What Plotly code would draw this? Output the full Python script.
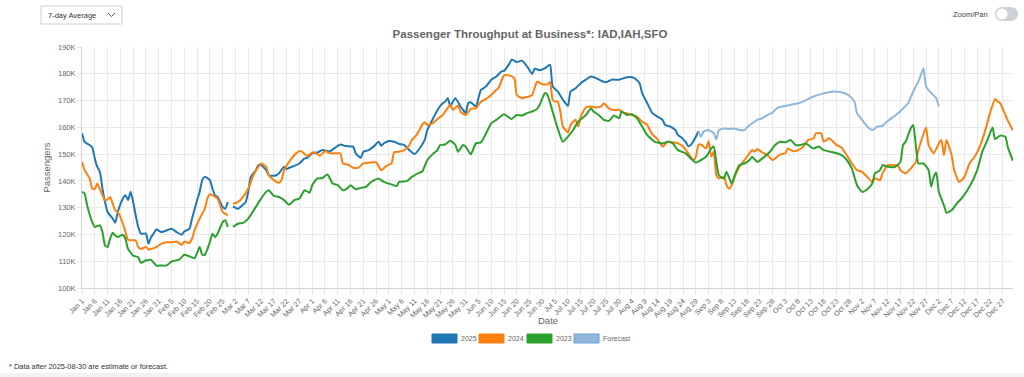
import plotly.graph_objects as go
import pandas as pd

# ---- data: (day-of-year index from Jan 1, passengers in thousands) ----
obs_2025 = [(0,157.8),(1,154.6),(3,153.4),(4,152.5),(5,148.4),(6,145.2),(7,143.4),(8,137.1),(9,132.1),(10,128.4),
            (12,125.9),(13,124.4),(14,128.4),(16,133.4),(17,134.6),(18,132.8),(19,135.9),(20,132.1),(21,127.1),(22,122.8),
            (23,120.3),(25,120.3),(26,116.5),(27,119.0),(28,120.3),(29,121.9),(31,120.9),(32,121.1),(35,122.1),(37,120.9),
            (39,119.9),(40,121.1),(42,122.1),(43,125.9),(45,132.8),(46,135.9),(47,140.3),(48,141.5),(50,140.3),(51,137.1),
            (52,134.6),(53,134.0),(55,130.3),(56,129.6),(57,132.1),(58,None),(59,130.5),(61,129.6),(62,130.3),(64,132.1),
            (65,135.9),(66,141.5),(68,144.0),(69,145.9),(70,145.9),(72,144.0),(73,142.1),(74,141.9),(76,142.1),(77,142.8),
            (79,145.3),(80,144.4),(81,144.9),(83,145.6),(85,146.5),(87,148.4),(88,148.6),(90,150.3),(92,150.6),(94,151.5),
            (97,151.1),(99,152.4),(101,153.6),(103,153.0),(106,152.8),(107,150.3),(109,148.6),(110,150.9),(112,151.5),(114,152.8),
            (116,154.6),(117,153.1),(118,154.0),(120,154.9),(122,154.6),(124,153.8),(126,153.4),(128,151.5),(130,150.0),(132,152.1),
            (134,155.3),(135,159.0),(137,162.8),(139,166.5),(141,169.0),(142,169.6),(143,170.9),(144,167.8),(145,169.6),(146,170.9),
            (148,167.8),(149,166.5),(150,165.3),(151,169.0),(152,169.4),(154,167.8),(155,170.9),(156,174.0),(158,175.3),(160,177.8),
            (162,179.0),(164,180.9),(165,181.1),(167,183.6),(168,185.3),(170,184.4),(172,184.9),(174,182.8),(176,179.9),(177,181.9),
            (179,181.3),(181,182.1),(183,183.4),(184,175.3),(186,173.4),(188,170.3),(190,168.0),(191,173.4),(193,174.6),(195,176.5),
            (197,177.8),(199,179.0),(201,178.4),(203,177.4),(205,176.8),(207,177.8),(210,177.8),(212,178.4),(214,178.8),(216,178.4),
            (218,176.5),(219,172.8),(221,169.0),(223,165.3),(225,164.0),(227,162.8),(228,160.9),(230,160.3),(232,159.0),(233,157.1),
            (234,156.5),(236,154.6),(237,153.0),(238,153.4),(240,156.5),(241,158.6)]

obs_forecast = [(241,158.6),(242,156.5),(243,158.4),(245,159.0),(247,157.8),(248,155.5),(249,159.0),(251,159.6),(253,159.4),
                (255,159.6),(257,159.0),(259,159.0),(260,159.9),(262,161.5),(264,162.8),(266,163.4),(268,164.6),(270,165.5),
                (272,167.4),(275,168.0),(277,168.4),(280,169.0),(282,169.6),(284,170.6),(286,171.5),(289,172.4),(292,173.1),
                (294,173.4),(297,173.1),(300,171.8),(302,169.6),(303,165.3),(305,162.8),(307,160.3),(309,159.0),(311,160.3),
                (313,160.6),(315,162.4),(318,164.4),(320,166.1),(323,169.0),(325,173.4),(327,177.1),(328,179.6),(329,182.1),
                (330,175.3),(332,172.8),(334,170.9),(335,167.8)]

obs_2024 = [(0,147.1),(1,144.0),(3,140.9),(4,137.1),(5,136.9),(6,139.0),(7,136.9),(9,132.8),(10,133.1),(11,134.0),
            (12,131.5),(13,129.0),(14,128.4),(16,124.0),(17,120.9),(18,118.0),(20,117.8),(21,117.8),(22,115.3),(23,114.6),
            (25,115.3),(26,114.4),(27,114.6),(29,115.3),(31,116.5),(33,117.1),(35,117.1),(37,117.4),(39,116.1),(40,117.4),
            (42,116.8),(43,118.4),(44,121.5),(46,125.9),(48,129.6),(49,133.4),(50,135.0),(51,134.6),(53,133.4),(54,130.9),
            (55,128.4),(57,127.1),(58,None),(59,131.5),(61,132.1),(63,134.0),(65,137.1),(67,142.1),(69,145.3),(70,146.5),
            (72,145.3),(73,142.1),(75,140.3),(77,139.3),(78,140.3),(79,144.0),(81,147.1),(83,149.6),(85,151.1),(86,150.9),
            (88,149.3),(89,149.9),(90,150.6),(91,150.6),(93,149.4),(95,151.1),(97,150.3),(99,150.3),(101,150.3),(102,146.5),
            (104,146.1),(106,144.9),(108,144.9),(110,146.5),(113,146.9),(115,146.9),(117,144.0),(119,145.6),(121,146.5),(122,150.6),
            (124,150.9),(126,151.5),(128,153.4),(129,155.3),(131,157.4),(133,160.9),(134,161.9),(135,160.9),(137,161.5),(139,163.1),
            (141,164.6),(142,165.9),(144,168.4),(145,166.5),(147,168.1),(148,165.9),(150,164.6),(152,166.9),(154,167.1),(156,169.6),
            (158,170.6),(160,172.1),(162,174.0),(163,174.9),(165,179.4),(167,179.4),(169,178.4),(170,172.1),(172,170.9),(174,171.3),
            (176,172.1),(178,177.1),(180,176.1),(182,176.1),(183,176.9),(184,170.3),(185,169.6),(186,169.6),(187,165.9),(188,160.3),
            (190,158.1),(191,160.9),(193,162.8),(194,160.3),(195,164.0),(197,167.4),(199,167.8),(201,167.4),(203,167.8),(204,169.0),
            (206,167.1),(208,166.5),(210,166.5),(212,165.3),(213,165.3),(215,164.6),(217,164.0),(219,162.1),(221,160.9),(222,159.0),
            (223,157.4),(225,155.6),(227,152.8),(229,154.6),(231,154.4),(233,154.0),(235,152.8),(237,150.3),(239,147.8),(240,149.0),
            (241,153.4),(242,153.6),(244,152.1),(245,154.9),(246,149.0),(247,150.9),(248,142.1),(249,140.9),(251,141.5),(252,138.4),
            (253,137.1),(254,138.4),(256,143.4),(258,146.5),(260,149.0),(262,151.5),(263,150.9),(264,151.9),(266,150.6),(268,149.6),
            (270,147.8),(273,149.9),(275,150.3),(276,152.1),(278,151.1),(280,151.5),(282,152.8),(284,155.3),(286,155.9),(287,157.8),
            (289,157.8),(290,154.6),(292,155.9),(293,155.3),(295,153.4),(297,152.4),(299,149.6),(301,146.5),(303,144.0),(305,143.4),
            (307,141.5),(309,139.6),(310,140.9),(312,140.3),(313,142.8),(315,145.9),(317,145.9),(319,145.6),(320,144.0),(322,142.8),
            (324,144.6),(326,147.1),(327,151.5),(328,154.6),(330,159.9),(331,153.4),(333,150.3),(335,154.0),(336,155.3),(337,149.6),
            (338,155.3),(340,149.6),(341,144.0),(343,139.6),(345,141.5),(347,146.5),(349,149.0),(351,152.8),(353,158.4),(355,165.3),
            (357,170.6),(358,169.6),(359,169.0),(361,164.6),(362,162.5),(364,158.8)]

obs_2023 = [(0,135.9),(1,135.3),(2,130.9),(4,124.6),(5,122.8),(7,123.4),(8,120.9),(9,115.9),(10,115.3),(11,118.4),
            (12,120.6),(13,119.6),(14,119.0),(16,119.9),(17,118.4),(18,114.6),(20,112.1),(22,111.5),(23,109.4),(25,110.3),
            (27,110.5),(29,108.4),(31,108.4),(33,108.4),(35,109.9),(38,110.6),(40,112.4),(42,111.8),(44,111.1),(46,115.3),
            (47,112.4),(48,112.4),(50,117.1),(51,120.3),(52,119.0),(53,120.3),(55,124.6),(56,125.3),(57,122.8),(58,None),
            (59,122.8),(61,124.0),(63,124.3),(65,125.9),(68,130.3),(70,133.4),(72,135.9),(73,136.5),(75,134.4),(77,134.0),
            (79,132.8),(81,131.1),(83,132.8),(85,133.4),(87,136.5),(89,135.6),(90,138.4),(92,140.9),(94,141.1),(96,142.4),
            (98,139.0),(100,138.4),(102,136.5),(104,137.4),(105,138.4),(107,136.9),(109,137.4),(111,137.8),(113,139.6),(116,140.9),
            (118,139.6),(120,139.0),(123,138.1),(124,139.6),(127,139.9),(129,141.5),(132,143.1),(133,143.4),(135,147.8),(137,149.9),
            (139,151.5),(140,153.4),(142,153.6),(144,155.0),(146,153.4),(147,150.9),(149,153.4),(150,152.8),(152,149.9),(154,154.0),
            (156,154.4),(158,157.8),(160,161.5),(162,162.8),(165,164.9),(168,163.1),(170,164.6),(172,164.4),(174,165.3),(176,165.9),
            (178,166.9),(179,168.5),(181,172.8),(182,172.1),(184,165.9),(186,159.6),(188,154.6),(190,156.5),(192,159.0),(194,162.1),
            (197,164.6),(199,167.1),(200,165.9),(202,164.6),(204,162.8),(206,162.4),(208,164.4),(210,163.4),(211,165.9),(213,164.6),
            (215,164.9),(217,163.4),(219,160.3),(221,157.1),(224,154.6),(227,154.0),(229,154.6),(231,154.0),(233,151.5),(236,150.3),
            (238,148.4),(240,146.9),(242,147.8),(244,149.0),(246,152.1),(247,152.8),(248,147.1),(249,142.1),(251,140.9),(252,143.4),
            (254,139.0),(255,141.5),(257,145.9),(259,146.5),(261,147.8),(262,149.0),(264,147.1),(266,148.4),(269,150.9),(271,153.4),
            (273,154.6),(275,154.4),(277,155.3),(279,153.4),(281,153.4),(283,154.0),(286,152.1),(288,152.8),(290,151.5),(294,150.6),
            (297,149.6),(299,147.8),(301,144.6),(303,138.4),(305,135.9),(307,136.9),(309,139.0),(310,142.8),(312,144.0),(313,145.9),
            (315,145.3),(318,145.3),(320,147.1),(321,153.4),(322,154.6),(324,159.6),(325,160.9),(326,153.4),(327,146.5),(329,146.5),
            (331,144.0),(332,137.8),(333,141.5),(334,143.1),(335,135.9),(337,130.9),(338,128.1),(340,129.0),(342,131.5),(344,133.6),
            (347,137.8),(350,144.0),(352,150.9),(354,155.3),(356,159.9),(357,155.6),(359,156.9),(361,156.5),(362,152.5),(364,147.5)]

series_names = ["2025", "2024", "2023", "Forecast"]
series_colors = ["#1f77b4", "#ff7f0e", "#2ca02c", "#8fb7db"]
y_ticks = [100, 110, 120, 130, 140, 150, 160, 170, 180, 190]
y_tick_labels = [f"{v}K" for v in y_ticks]

TITLE = "Passenger Throughput at Business*: IAD,IAH,SFO"
FOOTNOTE = "* Data after 2025-08-30 are estimate or forecast."

BASE = pd.Timestamp("2025-01-01")


def split(obs):
    dates = [BASE + pd.Timedelta(days=d) for d, _ in obs]
    vals = [v for _, v in obs]
    return dates, vals


FONT = "Liberation Sans, Arial, Helvetica, sans-serif"
W, H = 1024, 377
ML, MR, MT, MB = 82, 11, 47, 89
PW, PH = W - ML - MR, H - MT - MB


def fx(px):
    return (px - ML) / PW


def fy(py):
    return (H - MB - py) / PH


fig = go.Figure()
order = [(obs_2025, 0), (obs_2024, 1), (obs_2023, 2), (obs_forecast, 3)]
for obs, i in order:
    d, v = split(obs)
    fig.add_trace(go.Scatter(
        x=d, y=v, name=series_names[i], mode="lines",
        line=dict(color=series_colors[i], width=2, shape="spline", smoothing=0.5),
        connectgaps=False, showlegend=False))

shapes = []
annotations = []

# dropdown
shapes.append(dict(type="rect", xref="paper", yref="paper", x0=fx(41), x1=fx(122), y0=fy(24), y1=fy(6),
                   line=dict(color="#cfcfcf", width=1), fillcolor="white", layer="above"))
shapes.append(dict(type="path", xref="paper", yref="paper",
                   path=f"M {fx(108)},{fy(13)} L {fx(111.5)},{fy(16.5)} L {fx(115)},{fy(13)}",
                   line=dict(color="#555", width=1)))
annotations.append(dict(text="7-day Average", x=fx(46), y=fy(15.5), xref="paper", yref="paper",
                        xanchor="left", yanchor="middle", showarrow=False,
                        font=dict(size=7.5, color="#333", family=FONT)))

# zoom/pan toggle
tog = "#cdd2d9"
shapes.append(dict(type="circle", xref="paper", yref="paper", x0=fx(995), x1=fx(1009), y0=fy(21), y1=fy(7),
                   fillcolor=tog, line=dict(width=0)))
shapes.append(dict(type="circle", xref="paper", yref="paper", x0=fx(1004), x1=fx(1018), y0=fy(21), y1=fy(7),
                   fillcolor=tog, line=dict(width=0)))
shapes.append(dict(type="rect", xref="paper", yref="paper", x0=fx(1002), x1=fx(1011), y0=fy(21), y1=fy(7),
                   fillcolor=tog, line=dict(width=0)))
shapes.append(dict(type="circle", xref="paper", yref="paper", x0=fx(996.5), x1=fx(1007.5), y0=fy(19.5), y1=fy(8.5),
                   fillcolor="white", line=dict(width=0)))
annotations.append(dict(text="Zoom/Pan", x=fx(990), y=fy(14), xref="paper", yref="paper",
                        xanchor="right", yanchor="middle", showarrow=False,
                        font=dict(size=7.5, color="#444", family=FONT)))

# x-axis title
annotations.append(dict(text="Date", x=0.5, y=fy(320.5), xref="paper", yref="paper",
                        xanchor="center", yanchor="middle", showarrow=False,
                        font=dict(size=9.5, color="#666", family=FONT)))

# legend (boxes + labels)
leg_box_x = [432, 479, 527, 574]
for i, bx in enumerate(leg_box_x):
    border = series_colors[i] if i < 3 else "#6b9fcf"
    shapes.append(dict(type="rect", xref="paper", yref="paper", x0=fx(bx), x1=fx(bx + 25),
                       y0=fy(343), y1=fy(334), fillcolor=series_colors[i],
                       line=dict(color=border, width=1)))
    annotations.append(dict(text=series_names[i], x=fx(bx + 27), y=fy(338.5), xref="paper", yref="paper",
                            xanchor="left", yanchor="middle", showarrow=False,
                            font=dict(size=7, color="#666", family=FONT)))

# footnote
annotations.append(dict(text=FOOTNOTE, x=fx(7), y=fy(366), xref="paper", yref="paper",
                        xanchor="left", yanchor="middle", showarrow=False,
                        font=dict(size=7.4, color="#333", family=FONT)))
# bottom band
shapes.append(dict(type="rect", xref="paper", yref="paper", x0=fx(0), x1=fx(1024), y0=fy(377), y1=fy(373),
                   fillcolor="#f2f2f2", line=dict(width=0)))

fig.update_layout(
    width=W, height=H,
    margin=dict(l=ML, r=MR, t=MT, b=MB, autoexpand=False),
    paper_bgcolor="white", plot_bgcolor="white",
    font=dict(family=FONT, color="#666"),
    title=dict(text=f"<b>{TITLE}</b>", x=530 / W, xref="container", xanchor="center",
               y=1 - 34 / H, yref="container", yanchor="middle",
               font=dict(size=11.5, color="#666", family=FONT)),
    shapes=shapes, annotations=annotations,
    hovermode=False,
)
fig.update_xaxes(
    type="date", range=[BASE, BASE + pd.Timedelta(days=364)],
    tick0=BASE, dtick=5 * 86400000, tickformat="%b %-d", tickangle=-45,
    tickfont=dict(size=7.3, color="#666", family=FONT),
    showgrid=True, gridcolor="#e9e9e9", gridwidth=1,
    ticks="outside", ticklen=5, tickcolor="#e4e4e4",
    showline=True, linecolor="#d4d4d4", linewidth=1, zeroline=False,
    automargin=False,
)
fig.update_yaxes(
    range=[100, 190], tickmode="array", tickvals=y_ticks, ticktext=y_tick_labels,
    tickfont=dict(size=7.5, color="#666", family=FONT),
    showgrid=True, gridcolor="#e9e9e9", gridwidth=1,
    ticks="outside", ticklen=4, tickcolor="#e4e4e4",
    showline=True, linecolor="#d4d4d4", linewidth=1, zeroline=False,
    title=dict(text="Passengers", font=dict(size=9.5, color="#666", family=FONT), standoff=5),
    automargin=False,
)

fig.write_html("out.html", config={"displayModeBar": False},
               post_script="document.body.style.margin='0';document.body.style.overflow='hidden';")
